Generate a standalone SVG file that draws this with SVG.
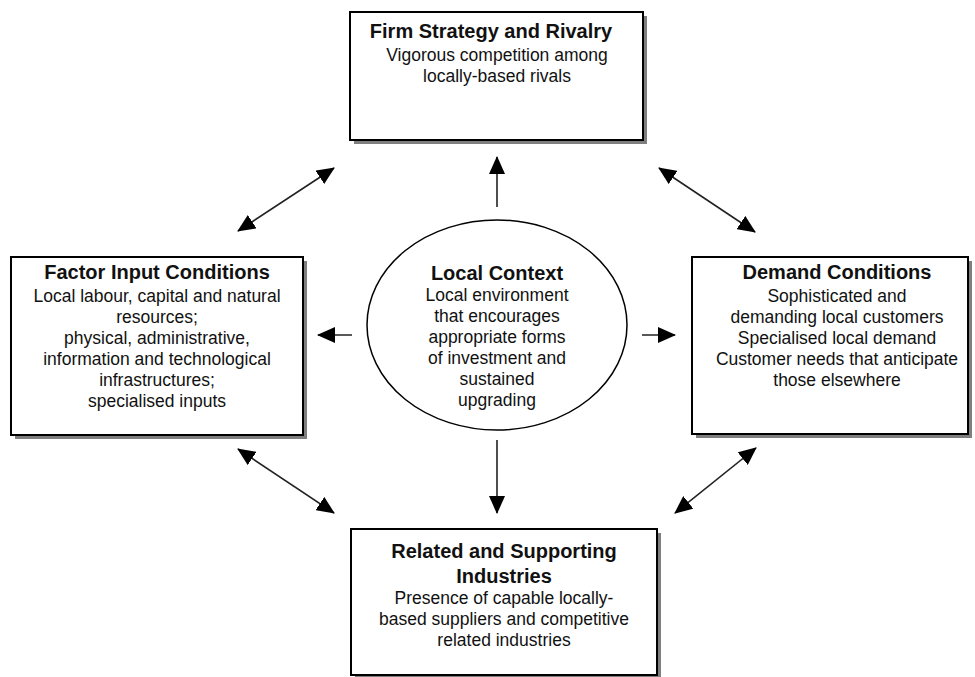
<svg xmlns="http://www.w3.org/2000/svg" width="975" height="677" viewBox="0 0 975 677">
  <style>
    .shadow { fill: #7f7f7f; }
    .box { fill: #ffffff; stroke: #000000; stroke-width: 2; }
    .oval { fill: #ffffff; stroke: #000000; stroke-width: 1.5; }
    text { font-family: "Liberation Sans", Arial, sans-serif; fill: #111111; text-anchor: middle; }
    .title { font-size: 20px; font-weight: bold; }
    .body { font-size: 17.5px; }
    .link { stroke: #222222; stroke-width: 1.6; fill: none; }
    .dbl { marker-start: url(#head); marker-end: url(#head); }
    .one { marker-end: url(#head); }
  </style>
  <defs>
    <marker id="head" viewBox="0 0 18 16" refX="17" refY="8" markerWidth="18" markerHeight="16" markerUnits="userSpaceOnUse" orient="auto-start-reverse">
      <path d="M0,0 L18,8 L0,16 z" fill="#000000"/>
    </marker>
  </defs>

  <rect width="975" height="677" fill="#ffffff"/>

  <!-- Connectors -->
  <g id="connectors">
    <line class="link one" x1="497" y1="207" x2="497" y2="157"/>
    <line class="link one" x1="497" y1="440" x2="497" y2="513"/>
    <line class="link one" x1="352" y1="335" x2="318" y2="335"/>
    <line class="link one" x1="642" y1="335" x2="675" y2="335"/>
    <line class="link dbl" x1="238" y1="231" x2="334" y2="168"/>
    <line class="link dbl" x1="238" y1="449" x2="334" y2="513"/>
    <line class="link dbl" x1="659" y1="168" x2="755" y2="232"/>
    <line class="link dbl" x1="756" y1="448" x2="675" y2="513"/>
  </g>

  <!-- Firm strategy (top) -->
  <g id="firm-strategy">
    <rect class="shadow" x="354" y="16" width="293" height="128"/>
    <rect class="box" x="350" y="12" width="293" height="128"/>
    <text class="title" x="491" y="38">Firm Strategy and Rivalry</text>
    <text class="body" x="497" y="61">Vigorous competition among</text>
    <text class="body" x="497" y="82">locally-based rivals</text>
  </g>

  <!-- Factor input conditions (left) -->
  <g id="factor-input">
    <rect class="shadow" x="15" y="261" width="292" height="178"/>
    <rect class="box" x="11" y="257" width="292" height="178"/>
    <text class="title" x="157" y="279">Factor Input Conditions</text>
    <text class="body" x="157" y="302">Local labour, capital and natural</text>
    <text class="body" x="157" y="323">resources;</text>
    <text class="body" x="157" y="344">physical, administrative,</text>
    <text class="body" x="157" y="365">information and technological</text>
    <text class="body" x="157" y="386">infrastructures;</text>
    <text class="body" x="157" y="407">specialised inputs</text>
  </g>

  <!-- Local context (centre) -->
  <g id="local-context">
    <ellipse class="oval" cx="497" cy="325" rx="130" ry="105"/>
    <text class="title" x="497" y="280">Local Context</text>
    <text class="body" x="497" y="301">Local environment</text>
    <text class="body" x="497" y="322">that encourages</text>
    <text class="body" x="497" y="343">appropriate forms</text>
    <text class="body" x="497" y="364">of investment and</text>
    <text class="body" x="497" y="385">sustained</text>
    <text class="body" x="497" y="406">upgrading</text>
  </g>

  <!-- Demand conditions (right) -->
  <g id="demand-conditions">
    <rect class="shadow" x="696" y="261" width="276" height="177"/>
    <rect class="box" x="692" y="257" width="276" height="177"/>
    <text class="title" x="837" y="279">Demand Conditions</text>
    <text class="body" x="837" y="302">Sophisticated and</text>
    <text class="body" x="837" y="323">demanding local customers</text>
    <text class="body" x="837" y="344">Specialised local demand</text>
    <text class="body" x="837" y="365">Customer needs that anticipate</text>
    <text class="body" x="837" y="386">those elsewhere</text>
  </g>

  <!-- Related and supporting industries (bottom) -->
  <g id="related-industries">
    <rect class="shadow" x="355" y="533" width="306" height="148"/>
    <rect class="box" x="351" y="529" width="306" height="146"/>
    <text class="title" x="504" y="558">Related and Supporting</text>
    <text class="title" x="504" y="583">Industries</text>
    <text class="body" x="504" y="604">Presence of capable locally-</text>
    <text class="body" x="504" y="625">based suppliers and competitive</text>
    <text class="body" x="504" y="646">related industries</text>
  </g>
</svg>
